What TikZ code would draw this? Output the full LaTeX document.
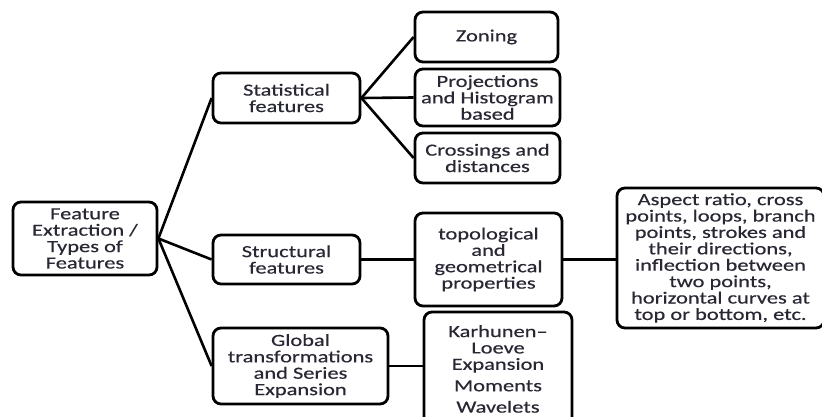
\documentclass[tikz,border=0pt]{standalone}
\usepackage{fontspec}
\setmainfont{Carlito}[FakeStretch=1.32,FakeBold=0.4]
\definecolor{txt}{RGB}{40,40,52}
\begin{document}
\begin{tikzpicture}[x=1pt,y=-1pt,
  box/.style={draw=black, line width=2.8pt, rounded corners=8pt, fill=white,
    align=center, inner sep=0pt, text=txt,
    font=\fontsize{17}{16.4}\selectfont},
  link/.style={draw=black, line width=2.6pt}]
\useasboundingbox (0,0) rectangle (822,417);
\node[box, minimum width=144pt, minimum height=73pt] (feat) at (85,238.5) {Feature\\Extraction /\\Types of\\Features};
\node[box, minimum width=147pt, minimum height=50pt] (stat) at (286.5,98) {Statistical\\features};
\node[box, minimum width=147pt, minimum height=49pt] (struct) at (286.5,259.5) {Structural\\features};
\node[box, minimum width=175pt, minimum height=76pt] (glob) at (300.5,366) {Global\\transformations\\and Series\\Expansion};
\node[box, minimum width=143pt, minimum height=50pt] (zon) at (486.5,37) {Zoning};
\node[box, minimum width=145pt, minimum height=57pt] (proj) at (487.5,97.5) {Projections\\and Histogram\\based};
\node[box, minimum width=145pt, minimum height=50pt] (cross) at (487.5,158) {Crossings and\\distances};
\node[box, minimum width=147pt, minimum height=93pt] (topo) at (488.5,259.5) {topological\\and\\geometrical\\properties};
\node[box, minimum width=148pt, minimum height=114pt] (karh) at (498,369) {Karhunen–\\Loeve\\Expansion\\[5pt]Moments\\[5pt]Wavelets};
\node[box, minimum width=207pt, minimum height=140pt] (asp) at (720.5,258) {Aspect ratio, cross\\points, loops, branch\\points, strokes and\\their directions,\\inflection between\\two points,\\horizontal curves at\\top or bottom, etc.};
\draw[link] (feat.east) -- (stat.west);
\draw[link] (feat.east) -- (struct.west);
\draw[link] (feat.east) -- (glob.west);
\draw[link] (stat.east) -- (zon.west);
\draw[link] (stat.east) -- (proj.west);
\draw[link] (stat.east) -- (cross.west);
\draw[link] (struct.east) -- (topo.west);
\draw[link] (topo.east) -- (topo.east -| asp.west);
\draw[link] (glob.east) -- (glob.east -| karh.west);
\end{tikzpicture}
\end{document}
